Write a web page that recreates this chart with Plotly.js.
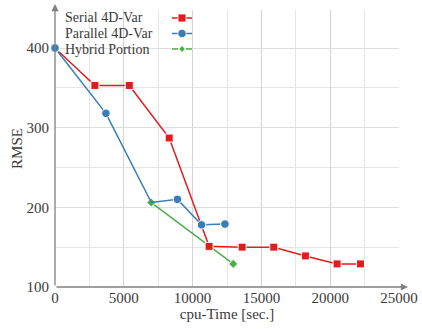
<!DOCTYPE html>
<html>
<head>
<meta charset="utf-8">
<script src="https://cdn.plot.ly/plotly-3.0.1.min.js"></script>
<style>html,body{margin:0;padding:0;background:#fff;}#chart{width:422px;height:329px;}</style>
</head>
<body>
<div id="chart"></div>
<script>
// ---- data ----
const seriesNames = ["Serial 4D-Var", "Parallel 4D-Var", "Hybrid Portion"];
const serialX   = [0, 2900, 5400, 8300, 11200, 13600, 15900, 18200, 20500, 22200];
const serialY   = [400, 353, 353, 287, 151, 150, 150, 139, 129, 129];
const parallelX = [0, 3700, 7000, 8900, 10650, 12350];
const parallelY = [400, 318, 206, 210, 178, 179];
const hybridX   = [7000, 11200, 12950];
const hybridY   = [206, 152, 129];
const xTicks = [0, 5000, 10000, 15000, 20000, 25000];
const yTicks = [100, 200, 300, 400];

// ---- styles ----
const RED = '#e41a1c', BLUE = '#377eb8', GREEN = '#4daf4a';
const FONT = 'Liberation Serif, Times New Roman, serif';
const TXT = '#3a3a3a';
const AX = '#808080';
const W = 422, H = 329, ML = 55, MR = 23, MT = 10, MB = 42;
const PW = W - ML - MR, PH = H - MT - MB;
const px = v => (v - ML) / PW;          // pixel -> paper x
const py = v => (H - MB - v) / PH;      // pixel -> paper y

// blue marker hidden where the hybrid marker sits on top in the reference
const parallelMarkerOpacity = parallelX.map(x => hybridX.includes(x) ? 0 : 1);

const traces = [
  {x: hybridX, y: hybridY, mode: 'lines+markers', name: seriesNames[2], cliponaxis: false,
   line: {color: GREEN, width: 1.5},
   marker: {symbol: 'diamond', size: 7, color: GREEN, line: {color: '#fff', width: 1}}},
  {x: serialX, y: serialY, mode: 'lines+markers', name: seriesNames[0], cliponaxis: false,
   line: {color: RED, width: 1.5},
   marker: {symbol: 'square', size: 8, color: RED, line: {color: '#fff', width: 1}}},
  {x: parallelX, y: parallelY, mode: 'lines+markers', name: seriesNames[1], cliponaxis: false,
   line: {color: BLUE, width: 1.5},
   marker: {symbol: 'circle', size: 8.5, color: BLUE, opacity: parallelMarkerOpacity,
            line: {color: '#fff', width: 1}}}
];

// custom legend (text left, key right)
const legendRows = [
  {name: seriesNames[0], color: RED, sym: 'square', ypx: 18},
  {name: seriesNames[1], color: BLUE, sym: 'circle', ypx: 33.5},
  {name: seriesNames[2], color: GREEN, sym: 'diamond', ypx: 49}
];
const shapes = [
  {type: 'rect', xref: 'paper', yref: 'paper', layer: 'between',
   x0: px(57), x1: px(196), y0: py(56), y1: py(MT), fillcolor: '#fff', line: {width: 0}}
];
const annotations = [];
legendRows.forEach(r => {
  annotations.push({xref: 'paper', yref: 'paper', x: px(63), y: py(r.ypx), xanchor: 'left', yanchor: 'middle',
    text: r.name, showarrow: false, font: {family: FONT, size: 14, color: TXT}});
  const yy = py(r.ypx);
  [[172, 178], [186, 192]].forEach(seg => shapes.push({type: 'line', xref: 'paper', yref: 'paper', layer: 'above',
    x0: px(seg[0]), x1: px(seg[1]), y0: yy, y1: yy, line: {color: r.color, width: 1.5}}));
  const cx = px(182);
  const base = {xref: 'paper', yref: 'paper', layer: 'above', xsizemode: 'pixel', ysizemode: 'pixel',
    xanchor: cx, yanchor: yy, fillcolor: r.color, line: {color: '#fff', width: 0.8}};
  if (r.sym === 'square') shapes.push(Object.assign({type: 'rect', x0: -4, x1: 4, y0: -4, y1: 4}, base));
  if (r.sym === 'circle') shapes.push(Object.assign({type: 'circle', x0: -4.2, x1: 4.2, y0: -4.2, y1: 4.2}, base));
  if (r.sym === 'diamond') shapes.push(Object.assign({type: 'path', path: 'M0,3.6 L3.2,0 L0,-3.6 L-3.2,0 Z'}, base));
});

// axis arrows
annotations.push({xref: 'paper', yref: 'paper', x: 0, y: py(4), ax: 0, ay: H - MB - 4, axref: 'pixel', ayref: 'pixel',
  text: '', showarrow: true, arrowhead: 2, arrowsize: 1.1, arrowwidth: 1.3, arrowcolor: AX});
annotations.push({xref: 'paper', yref: 'paper', x: px(408), y: 0, ax: -(408 - ML), ay: 0,
  text: '', showarrow: true, arrowhead: 2, arrowsize: 1.1, arrowwidth: 1.3, arrowcolor: AX});

const layout = {
  width: W, height: H,
  margin: {l: ML, r: MR, t: MT, b: MB, pad: 0},
  paper_bgcolor: '#fff', plot_bgcolor: '#fff',
  showlegend: false,
  font: {family: FONT, size: 15, color: TXT},
  xaxis: {
    range: [0, 25000], tickvals: xTicks, ticktext: xTicks.map(String),
    showgrid: true, gridcolor: '#d4d4d4', gridwidth: 1,
    minor: {dtick: 2500, showgrid: true, gridcolor: '#e6e6e6', gridwidth: 1},
    zeroline: false, showline: false, ticks: '', ticklabelstandoff: 0,
    tickfont: {family: FONT, size: 15, color: TXT},
    title: {text: 'cpu-Time [sec.]', font: {family: FONT, size: 15, color: TXT}, standoff: 0},
    automargin: false
  },
  yaxis: {
    range: [100, 447.7], tickvals: yTicks, ticktext: yTicks.map(String),
    showgrid: true, gridcolor: '#dedede', gridwidth: 1,
    minor: {dtick: 50, showgrid: true, gridcolor: '#e6e6e6', gridwidth: 1},
    zeroline: false, showline: false, ticks: '', ticklabelstandoff: 5,
    tickfont: {family: FONT, size: 15, color: TXT},
    title: {text: 'RMSE', font: {family: FONT, size: 15, color: TXT}, standoff: 0},
    automargin: false
  },
  shapes: shapes,
  annotations: annotations
};

Plotly.newPlot('chart', traces, layout, {staticPlot: true, displayModeBar: false});
</script>
</body>
</html>
